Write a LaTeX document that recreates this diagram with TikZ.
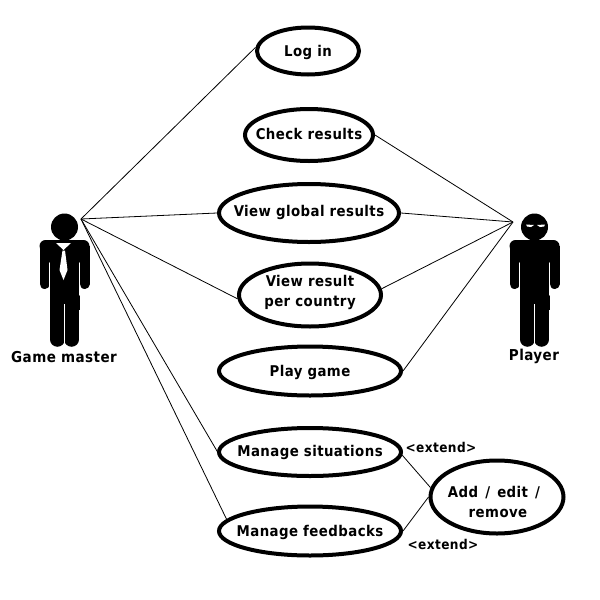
\documentclass[tikz,border=0pt]{standalone}
\usepackage{fontspec}
\setmainfont[LetterSpace=3]{DejaVu Sans Condensed}
\usetikzlibrary{shapes.geometric}
\tikzset{
  usecase/.style={ellipse,draw=black,line width=4pt,fill=white,inner sep=0pt},
  uctext/.style={inner sep=0pt,align=center,font=\fontsize{14.8}{20}\selectfont\bfseries},
  link/.style={draw=black,line width=0.8pt},
  lbl/.style={inner sep=0pt,font=\fontsize{15}{18}\selectfont\bfseries},
  ext/.style={inner sep=0pt,font=\fontsize{13.5}{16}\selectfont\bfseries},
  gapline/.style={draw=white,line width=1.1pt,line cap=round},
  limb/.style={draw=black,line cap=round}
}
\newcommand{\figurebody}[1]{%
  \begin{scope}[shift={(#1,0)}]
    \fill[black] (0,227) circle (13.5pt);
    \fill[black,rounded corners=6pt] (-25,240) -- (25,240) -- (25,252) -- (-25,252) -- cycle;
    \fill[black] (-25,246) rectangle (25,252);
    \fill[black] (-15,250) rectangle (15,310);
    \draw[limb,line width=10pt] (-20,250) -- (-20,284);
    \draw[limb,line width=10pt] (20,250) -- (20,284);
    \draw[limb,line width=14.5pt] (-7.2,300) -- (-7.2,339.5);
    \draw[limb,line width=14.5pt] (7.2,300) -- (7.2,339.5);
    \draw[gapline] (-15,263) -- (-15,295);
    \draw[gapline] (15,263) -- (15,295);
    \draw[draw=white,line width=0.7pt] (0,304) -- (0,348);
  \end{scope}}
\begin{document}
\begin{tikzpicture}[x=1pt,y=-1pt]
\useasboundingbox (0,0) rectangle (600,600);
\fill[white] (0,0) rectangle (600,600);
\figurebody{64.5}
\figurebody{534.5}
\fill[white] (56,243) -- (71,243) -- (63.5,250) -- cycle;
\fill[white] (62.5,250.5) -- (65,250.5) -- (67.5,270) -- (63.5,280) -- (59.5,270) -- cycle;
\fill[white] (526,224.5) -- (534,225) -- (531,227) -- (527,226.5) -- cycle;
\fill[white] (545,224.5) -- (537,225) -- (540,227) -- (544,226.5) -- cycle;
\coordinate (gm) at (81,219);
\coordinate (pl) at (513,222);
\node[usecase,minimum width=102pt,minimum height=47pt] (login) at (308,51) {};
\node[usecase,minimum width=128pt,minimum height=52pt] (check) at (309,135) {};
\node[usecase,minimum width=180pt,minimum height=58pt] (global) at (309,213) {};
\node[usecase,minimum width=142pt,minimum height=63pt] (country) at (310,295) {};
\node[usecase,minimum width=182pt,minimum height=49pt] (play) at (310,371) {};
\node[usecase,minimum width=182pt,minimum height=48pt] (sit) at (310,452) {};
\node[usecase,minimum width=182pt,minimum height=49pt] (fb) at (310,531) {};
\node[usecase,minimum width=133pt,minimum height=73pt] (add) at (497,497) {};
\node[uctext] (t1) at (308,52) {Log in};
\node[uctext] (t2) at (309,134) {Check results};
\node[uctext] (t3) at (309,212) {View global results};
\node[uctext] (t4) at (310,292) {View result\\per country};
\node[uctext] (t5) at (310,372) {Play game};
\node[uctext] (t6) at (310,452) {Manage situations};
\node[uctext] (t7) at (310,532) {Manage feedbacks};
\node[uctext] (t8) at (498,502) {Add\hspace{2pt} /\hspace{2pt} edit\hspace{2pt} /\hspace*{8pt}\\remove};
\draw[link] (gm) -- (login.176);
\draw[link] (gm) -- (global.180);
\draw[link] (gm) -- (country.183);
\draw[link] (gm) -- (sit.186);
\draw[link] (gm) -- (fb.172);
\draw[link] (pl) -- (check.0);
\draw[link] (pl) -- (global.0);
\draw[link] (pl) -- (country.5);
\draw[link] (pl) -- (play.0);
\draw[link] (sit.-2) -- (add.172);
\draw[link] (fb.0) -- (add.180);
\node[lbl] (gmlabel) at (64,357) {Game master};
\node[lbl] (pllabel) at (534,356) {Player};
\node[ext] (ext1) at (441,447) {<extend>};
\node[ext] (ext2) at (443,544) {<extend>};
\end{tikzpicture}
\end{document}
